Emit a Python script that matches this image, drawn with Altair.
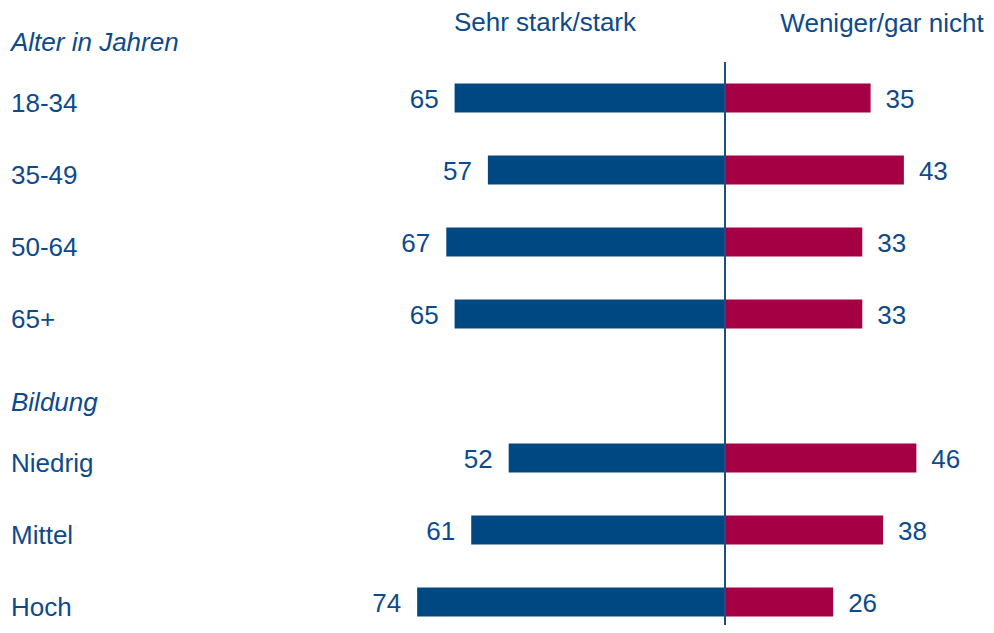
import altair as alt
import pandas as pd

# --- data ---
groups = ["Alter in Jahren", "Bildung"]
categories = ["18-34", "35-49", "50-64", "65+", "Niedrig", "Mittel", "Hoch"]
category_group = ["Alter in Jahren"] * 4 + ["Bildung"] * 3
stark = [65, 57, 67, 65, 52, 61, 74]
weniger = [35, 43, 33, 33, 46, 38, 26]
series = ["Sehr stark/stark", "Weniger/gar nicht"]
colors = ["#004882", "#A50044"]

row_order = ["Alter in Jahren", "18-34", "35-49", "50-64", "65+",
             "Bildung", "Niedrig", "Mittel", "Hoch"]

rows = []
for c, s, w in zip(categories, stark, weniger):
    rows.append({"cat": c, "series": series[0], "value": s, "x": -s, "x0": 0})
    rows.append({"cat": c, "series": series[1], "value": w, "x": w, "x0": 0})
df = pd.DataFrame(rows)
left = df[df.series == series[0]]
right = df[df.series == series[1]]

cat_df = pd.DataFrame({"cat": categories})
grp_df = pd.DataFrame({"cat": groups})
hdr_df = pd.DataFrame({"label": series, "px": [537, 874], "dy": [23, 24]})

FONT = "Liberation Sans"
TXT = "#0d4a8b"
FS = 26

yscale = alt.Scale(domain=row_order, range=[-18, 630])
xscale = alt.Scale(domain=[-100, 100], range=[301, 1133])
Y = alt.Y("cat:N", scale=yscale, axis=None)

bars = alt.Chart(df).mark_bar(size=29).encode(
    x=alt.X("x:Q", scale=xscale, axis=None),
    x2="x0:Q",
    y=Y,
    color=alt.Color("series:N", scale=alt.Scale(domain=series, range=colors), legend=None),
)

left_lbl = alt.Chart(left).mark_text(
    font=FONT, fontSize=FS, color=TXT, align="right", baseline="alphabetic", dx=-16, dy=9.5
).encode(x=alt.X("x:Q", scale=xscale), y=Y, text="value:Q")

right_lbl = alt.Chart(right).mark_text(
    font=FONT, fontSize=FS, color=TXT, align="left", baseline="alphabetic", dx=15, dy=9.5
).encode(x=alt.X("x:Q", scale=xscale), y=Y, text="value:Q")

cat_lbl = alt.Chart(cat_df).mark_text(
    font=FONT, fontSize=FS, color=TXT, align="left", baseline="alphabetic", dy=14
).encode(x=alt.value(3), y=Y, text="cat:N")

grp_lbl = alt.Chart(grp_df).mark_text(
    font=FONT, fontSize=FS, color=TXT, align="left", baseline="alphabetic", dy=25,
    fontStyle="italic"
).encode(x=alt.value(3), y=Y, text="cat:N")

hdr = alt.Chart(hdr_df).mark_text(
    font=FONT, fontSize=FS, color=TXT, align="center", baseline="alphabetic"
).encode(x=alt.X("px:Q", scale=None), y=alt.Y("dy:Q", scale=None), text="label:N")

rule = alt.Chart(pd.DataFrame({"v": [0]})).mark_rule(color="#1a4f8a", strokeWidth=2).encode(
    x=alt.X("v:Q", scale=xscale), y=alt.value(54), y2=alt.value(640)
)

chart = alt.layer(bars, rule, left_lbl, right_lbl, cat_lbl, grp_lbl, hdr).properties(
    width=978, height=617, padding=0, autosize=alt.AutoSizeParams(type="none")
).configure_view(stroke=None)

chart.save("out.html", embed_options={"renderer": "svg", "actions": False})
